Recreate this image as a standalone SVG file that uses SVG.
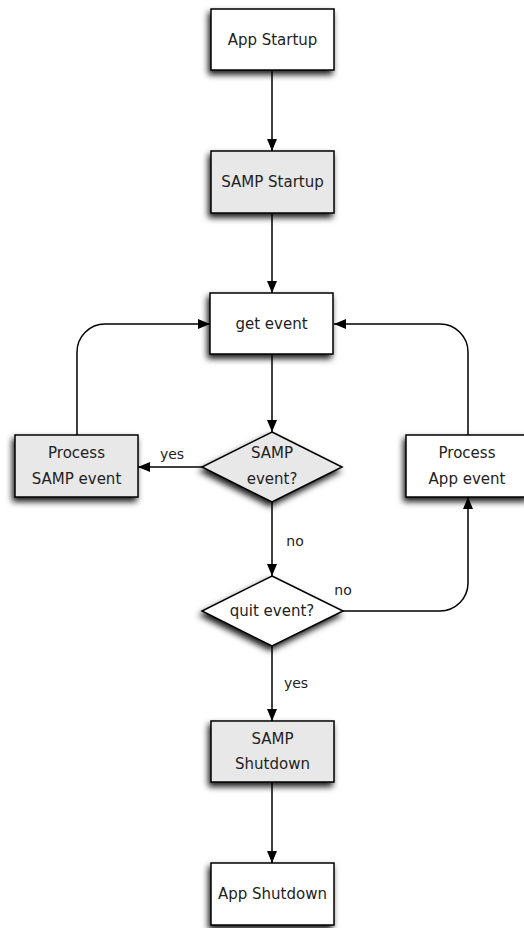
<svg xmlns="http://www.w3.org/2000/svg" width="524" height="928" viewBox="0 0 524 928">
<defs>
<filter id="sh" x="-30%" y="-30%" width="160%" height="170%">
<feDropShadow dx="-2" dy="4" stdDeviation="3" flood-color="#000" flood-opacity="0.9"/>
</filter>
<marker id="ah" viewBox="0 0 12 10" refX="12" refY="5" markerWidth="12" markerHeight="10" markerUnits="userSpaceOnUse" orient="auto">
<path d="M0,0 L12,5 L0,10 Z" fill="#000"/>
</marker>
<style>
.n{stroke:#000;stroke-width:1.5;filter:url(#sh)}
.w{fill:#fff}
.g{fill:#e8e8e8}
text{font-family:"DejaVu Sans","Liberation Sans",sans-serif;font-size:15px;fill:#222;text-anchor:middle;dominant-baseline:central}
.lb{font-size:14px}
.c{fill:none;stroke:#000;stroke-width:1.5;marker-end:url(#ah)}
</style>
</defs>
<g id="connectors">
<path class="c" d="M272,70 V151"/>
<path class="c" d="M272,213 V293"/>
<path class="c" d="M272,354 V432"/>
<path class="c" d="M202,467 H138"/>
<path class="c" d="M272,502 V576"/>
<path class="c" d="M272,646 V721"/>
<path class="c" d="M272,782 V863"/>
<path class="c" d="M77,435 V352 A28,28 0 0 1 105,324 H210"/>
<path class="c" d="M468,435 V352 A28,28 0 0 0 440,324 H334"/>
<path class="c" d="M343,611 H440 A28,28 0 0 0 468,583 V497"/>
<text class="lb" x="172" y="454">yes</text>
<text class="lb" x="295" y="541">no</text>
<text class="lb" x="343" y="590">no</text>
<text class="lb" x="296" y="683">yes</text>
</g>
<g id="app-startup"><rect class="n w" x="211" y="9" width="123" height="61"/><text x="272.5" y="39.5">App Startup</text></g>
<g id="samp-startup"><rect class="n g" x="211" y="151" width="123" height="62"/><text x="272.5" y="182">SAMP Startup</text></g>
<g id="get-event"><rect class="n w" x="210" y="293" width="123" height="61"/><text x="271.5" y="323.5">get event</text></g>
<g id="samp-event"><path class="n g" d="M272,432 L342,467 L272,502 L202,467 Z"/><text x="272" y="453">SAMP</text><text x="272" y="479">event?</text></g>
<g id="process-samp"><rect class="n g" x="15" y="435" width="123" height="62"/><text x="76.5" y="453">Process</text><text x="76.5" y="479">SAMP event</text></g>
<g id="process-app"><rect class="n w" x="406" y="435" width="123" height="62"/><text x="467" y="453">Process</text><text x="467" y="479">App event</text></g>
<g id="quit-event"><path class="n w" d="M272,576 L343,611 L272,646 L202,611 Z"/><text x="272" y="611">quit event?</text></g>
<g id="samp-shutdown"><rect class="n g" x="211" y="721" width="123" height="61"/><text x="272.5" y="739">SAMP</text><text x="272.5" y="764">Shutdown</text></g>
<g id="app-shutdown"><rect class="n w" x="211" y="863" width="123" height="62"/><text x="272.5" y="894">App Shutdown</text></g>
</svg>
